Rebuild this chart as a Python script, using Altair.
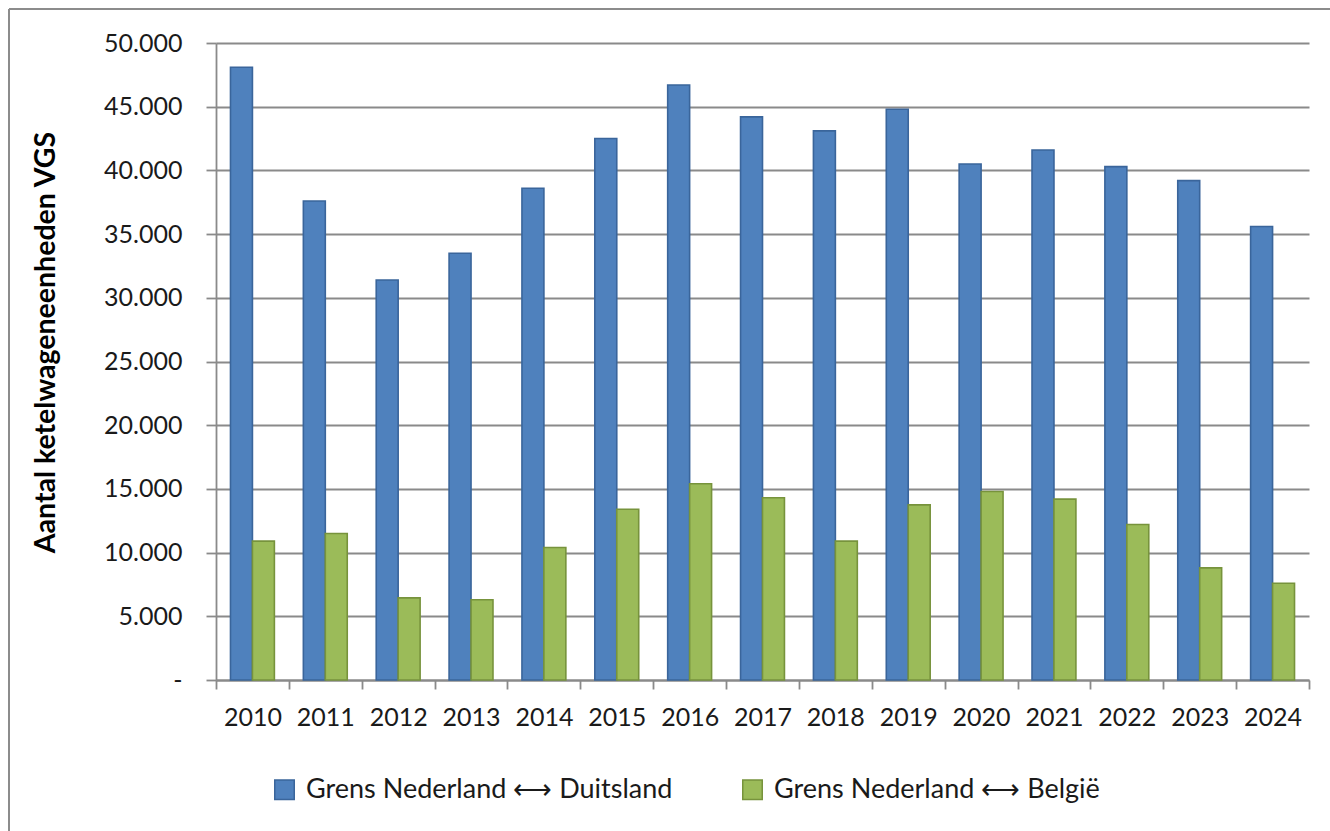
import altair as alt
import pandas as pd

years = [str(y) for y in range(2010, 2025)]
duitsland = [48100, 37600, 31400, 33500, 38600, 42500, 46700, 44200, 43100, 44800, 40500, 41600, 40300, 39200, 35600]
belgie = [10900, 11500, 6450, 6300, 10400, 13400, 15400, 14300, 10900, 13750, 14800, 14200, 12200, 8800, 7600]
series = ["Grens Nederland \u27f7 Duitsland", "Grens Nederland \u27f7 Belgi\u00eb"]
fills = ["#4f81bd", "#9bbb59"]
strokes = ["#3a659b", "#77933c"]
y_ticks = list(range(0, 50001, 5000))

rows = []
for i, y in enumerate(years):
    rows.append({"jaar": y, "reeks": series[0], "waarde": duitsland[i]})
    rows.append({"jaar": y, "reeks": series[1], "waarde": belgie[i]})
df = pd.DataFrame(rows)

FONT = "Lato"
GRID = "#8a8a8a"

legend_def = dict(title=None, orient="none", legendX=55, legendY=733,
                  direction="horizontal", columns=2, columnPadding=66,
                  symbolType="square", symbolSize=380,
                  symbolStrokeWidth=1.5, labelFontSize=27, labelFont=FONT,
                  labelColor="#1a1a1a", labelOffset=8, labelLimit=0, padding=0)

bars = alt.Chart(df).mark_bar(strokeWidth=1.6).encode(
    x=alt.X("jaar:N", sort=years,
            scale=alt.Scale(paddingInner=0, paddingOuter=0),
            axis=alt.Axis(title=None, labelAngle=0, tickBand="extent", tickSize=9,
                          tickColor=GRID, tickWidth=1.8, domainColor=GRID, domainWidth=1.8,
                          labelFontSize=25, labelPadding=16, labelColor="#1a1a1a",
                          labelFont=FONT, grid=False)),
    xOffset=alt.XOffset("reeks:N", sort=series,
                        scale=alt.Scale(paddingInner=0, paddingOuter=0.66)),
    y=alt.Y("waarde:Q", scale=alt.Scale(domain=[0, 50000], nice=False),
            axis=alt.Axis(values=y_ticks, grid=True, gridColor=GRID, gridWidth=1.8,
                          domainColor=GRID, domainWidth=1.8, tickColor=GRID, tickWidth=1.8,
                          tickSize=10, labelFontSize=25, labelPadding=24, labelColor="#1a1a1a",
                          labelFont=FONT,
                          labelExpr="datum.value == 0 ? '-\u00a0\u00a0\u00a0' : replace(format(datum.value, ','), ',', '.')",
                          title="Aantal ketelwageneenheden VGS", titleFont=FONT,
                          titleFontSize=28.5, titleFontWeight="bold", titleColor="#000000",
                          titleX=-171, titleY=299, titleBaseline="middle", titleAngle=270)),
    fill=alt.Fill("reeks:N", sort=series, scale=alt.Scale(domain=series, range=fills),
                  legend=alt.Legend(**legend_def)),
    stroke=alt.Stroke("reeks:N", sort=series, scale=alt.Scale(domain=series, range=strokes),
                      legend=alt.Legend(**legend_def)),
)

frame_left = alt.Chart(alt.Data(values=[{}])).mark_rule(color="#8c8c8c", strokeWidth=2).encode(
    x=alt.value(-207), y=alt.value(-34), y2=alt.value(790))
frame_top = alt.Chart(alt.Data(values=[{}])).mark_rule(color="#8c8c8c", strokeWidth=2).encode(
    x=alt.value(-207), x2=alt.value(1116), y=alt.value(-34))

chart = alt.layer(bars, frame_left, frame_top).properties(
    width=1093, height=637,
    autosize=alt.AutoSizeParams(type="none"),
    padding={"left": 216, "top": 43, "right": 21, "bottom": 151},
    background="white",
).configure_view(stroke=None)

chart.save("out.html", embed_options={"renderer": "svg", "actions": False})
